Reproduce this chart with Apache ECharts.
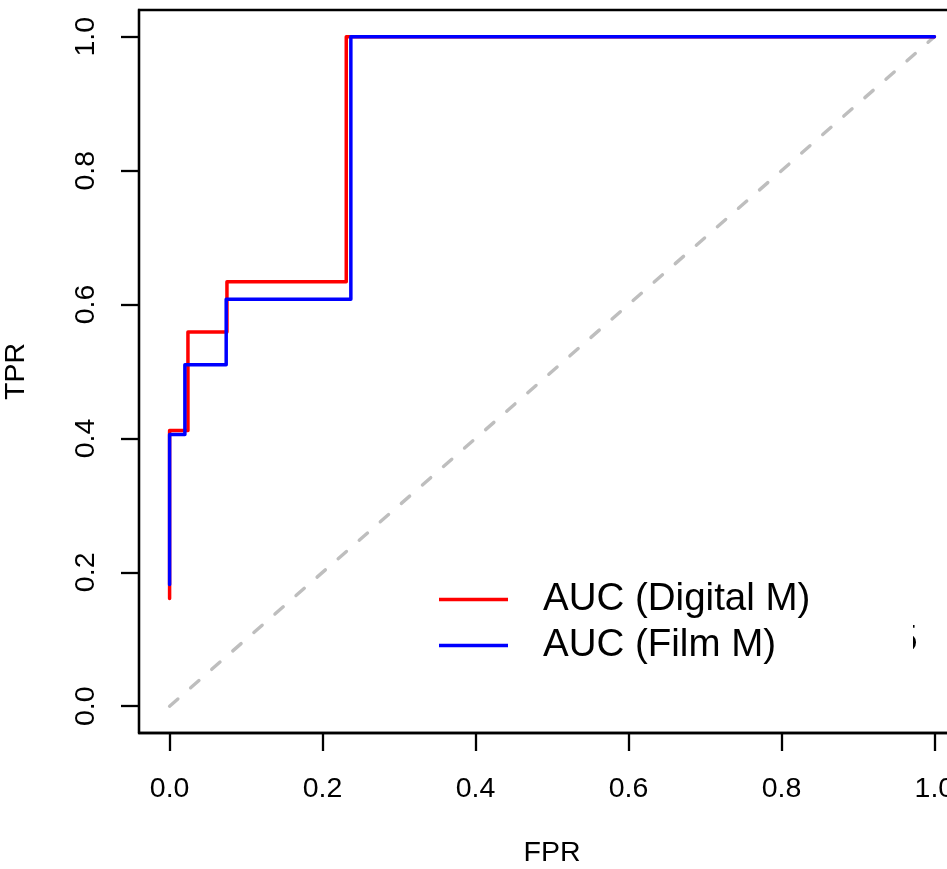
<!DOCTYPE html>
<html>
<head>
<meta charset="utf-8">
<script src="https://cdn.jsdelivr.net/npm/echarts@6/dist/echarts.min.js"></script>
<style>
html,body{margin:0;padding:0;background:#fff;}
#chart{width:947px;height:869px;}
</style>
</head>
<body>
<div id="chart"></div>
<script>
// ROC vertices
const digitalFPR = [0.000, 0.000, 0.024, 0.024, 0.075, 0.075, 0.231, 0.231, 1.000];
const digitalTPR = [0.161, 0.412, 0.412, 0.559, 0.559, 0.634, 0.634, 1.000, 1.000];
const filmFPR    = [0.000, 0.000, 0.020, 0.020, 0.074, 0.074, 0.237, 0.237, 1.000];
const filmTPR    = [0.182, 0.406, 0.406, 0.510, 0.510, 0.608, 0.608, 1.000, 1.000];
const chanceFPR  = [0, 1];
const chanceTPR  = [0, 1];
const tickValues = [0, 0.2, 0.4, 0.6, 0.8, 1.0];
const seriesNames = ['AUC (Digital M)', 'AUC (Film M)'];
const xTitle = 'FPR';
const yTitle = 'TPR';

const zip = (a, b) => a.map((v, i) => [v, b[i]]);
const FONT = 'Liberation Sans, Arial, sans-serif';

const chart = echarts.init(document.getElementById('chart'), null, {renderer: 'canvas'});

const axisCommon = {
  type: 'value',
  min: -0.04,
  max: 1.04,
  splitLine: {show: false},
  axisLine: {show: true, onZero: false, lineStyle: {color: '#000', width: 2.3}},
  axisTick: {show: true, inside: false, length: 18, customValues: tickValues,
             lineStyle: {color: '#000', width: 2.3}},
  axisLabel: {customValues: tickValues, formatter: v => v.toFixed(1),
              color: '#000', fontSize: 28.5, fontFamily: FONT},
  nameLocation: 'middle',
  nameTextStyle: {color: '#000', fontSize: 28.5, fontFamily: FONT}
};

chart.setOption({
  animation: false,
  backgroundColor: '#fff',
  grid: {
    left: 139, top: 10, width: 826, height: 723,
    show: true, borderColor: '#000', borderWidth: 2.3,
    containLabel: false, outerBoundsMode: 'none'
  },
  xAxis: Object.assign({}, axisCommon, {
    name: xTitle, nameGap: 106,
    axisLabel: Object.assign({}, axisCommon.axisLabel, {margin: 42})
  }),
  yAxis: Object.assign({}, axisCommon, {
    name: yTitle, nameGap: 108,
    axisLabel: Object.assign({}, axisCommon.axisLabel, {margin: 38, rotate: 90})
  }),
  legend: {
    data: seriesNames,
    orient: 'vertical',
    left: 434, top: 574,
    icon: 'rect',
    itemWidth: 69, itemHeight: 3.5,
    itemGap: 5,
    textStyle: {color: '#000', fontSize: 38.5, fontFamily: FONT, lineHeight: 41,
                padding: [0, 0, 0, 30]},
    selectedMode: false
  },
  series: [
    {
      type: 'line', name: 'chance', data: zip(chanceFPR, chanceTPR),
      showSymbol: false, silent: true,
      lineStyle: {color: '#bebebe', width: 3.4, type: [11, 17], cap: 'round'},
      z: 1
    },
    {
      type: 'line', name: seriesNames[0], data: zip(digitalFPR, digitalTPR),
      showSymbol: false, color: '#ff0000',
      lineStyle: {color: '#ff0000', width: 3.5, cap: 'round', join: 'round'},
      z: 2
    },
    {
      type: 'line', name: seriesNames[1], data: zip(filmFPR, filmTPR),
      showSymbol: false, color: '#0000ff',
      lineStyle: {color: '#0000ff', width: 3.5, cap: 'round', join: 'round'},
      z: 3
    }
  ],
  graphic: [
    {type: 'text', left: 897, top: 622, z: 10,
     style: {text: '5', fontSize: 37, fontFamily: FONT, fill: '#000'}},
    {type: 'rect', shape: {x: 880, y: 612, width: 33, height: 52}, z: 11,
     style: {fill: '#fff'}}
  ]
});
</script>
</body>
</html>
